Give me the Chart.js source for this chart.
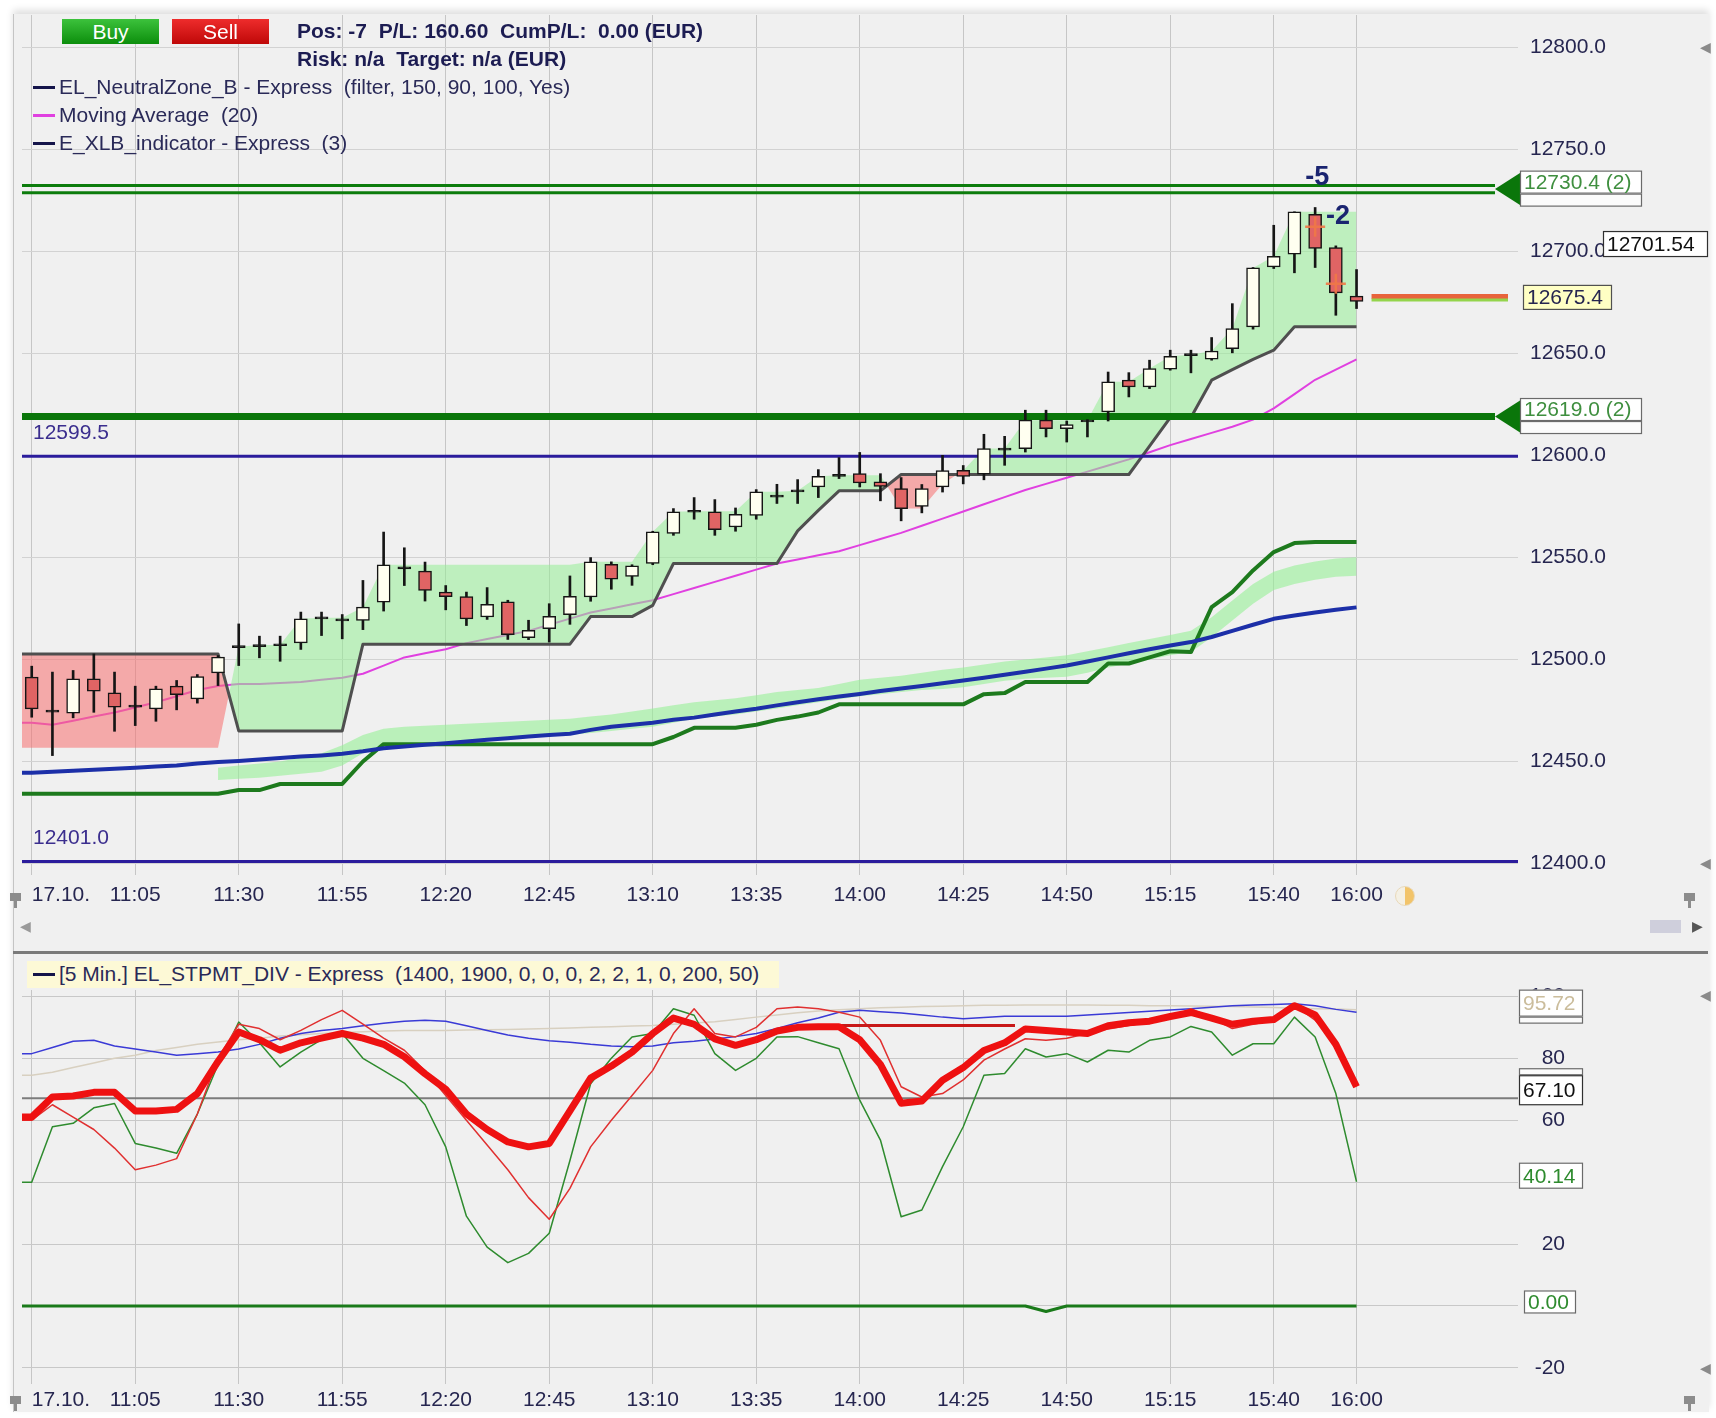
<!DOCTYPE html>
<html>
<head>
<meta charset="utf-8">
<script src="https://cdn.jsdelivr.net/npm/chart.js@4.4.1/dist/chart.umd.min.js"></script>
<style>
  body { margin: 0; background: #fff; }
  #wrap { position: relative; width: 1716px; height: 1418px; overflow: hidden; background: #fff;
          font-family: "Liberation Sans", Arial, sans-serif; }
  #panel { position: absolute; left: 13px; top: 14px; width: 1695px; height: 1398px; background: #f0f0f0;
           border-left: 1px solid #c4c4c4; box-shadow: 0 -4px 7px rgba(0,0,0,0.13); }
  canvas { position: absolute; left: 0; }
  #cTop { top: 0; }
  #cBot { top: 955px; }
  .t { position: absolute; white-space: pre; font-size: 21px; line-height: 26px; color: #2a2a58; }
  .b { font-weight: bold; color: #1c1c52; }
  .btn { position: absolute; top: 19px; width: 97px; height: 25px; color: #fff; font-size: 21px;
         line-height: 25px; text-align: center; }
  .dash { position: absolute; width: 22px; height: 3px; }
  #sep { position: absolute; left: 13px; top: 951px; width: 1695px; height: 3px; background: #7a7a7a; }
  .ico { position: absolute; color: #8a8a8a; font-size: 14px; line-height: 14px; }
  .pin { position: absolute; width: 11px; height: 8px; background: #8c8c8c; }
  .pin::after { content: ""; position: absolute; left: 4px; top: 8px; width: 3px; height: 7px; background: #8c8c8c; }
</style>
</head>
<body>
<div id="wrap">
  <div id="panel"></div>
  <canvas id="cTop" width="1716" height="950"></canvas>
  <canvas id="cBot" width="1716" height="463"></canvas>
  <div id="sep"></div>

  <div class="btn" style="left:62px;background:linear-gradient(#3cc23c,#0c8e0c)">Buy</div>
  <div class="btn" style="left:172px;background:linear-gradient(#ee2c2c,#bf0808)">Sell</div>
  <div class="t b" style="left:297px;top:18px">Pos: -7  P/L: 160.60  CumP/L:  0.00 (EUR)</div>
  <div class="t b" style="left:297px;top:46px">Risk: n/a  Target: n/a (EUR)</div>

  <div class="dash" style="left:33px;top:86px;background:#14144a"></div>
  <div class="t" style="left:59px;top:74px">EL_NeutralZone_B - Express  (filter, 150, 90, 100, Yes)</div>
  <div class="dash" style="left:33px;top:114px;background:#e040e0"></div>
  <div class="t" style="left:59px;top:102px">Moving Average  (20)</div>
  <div class="dash" style="left:33px;top:142px;background:#14144a"></div>
  <div class="t" style="left:59px;top:130px">E_XLB_indicator - Express  (3)</div>

  <div style="position:absolute;left:27px;top:961px;width:752px;height:27px;background:#fdf9d6"></div>
  <div class="dash" style="left:33px;top:973px;background:#14144a"></div>
  <div class="t" style="left:59px;top:961px">[5 Min.] EL_STPMT_DIV - Express  (1400, 1900, 0, 0, 0, 2, 2, 1, 0, 200, 50)</div>

  <div class="ico" style="left:1700px;top:40px">&#9664;</div>
  <div class="ico" style="left:1700px;top:856px">&#9664;</div>
  <div class="ico" style="left:1700px;top:988px">&#9664;</div>
  <div class="ico" style="left:1700px;top:1361px">&#9664;</div>
  <div class="ico" style="left:20px;top:919px;color:#9a9a9a">&#9664;</div>
  <div style="position:absolute;left:1650px;top:920px;width:31px;height:13px;background:#cfcfdc"></div>
  <div class="ico" style="left:1692px;top:919px;color:#555">&#9654;</div>
  <div style="position:absolute;left:1395px;top:886px;width:18px;height:18px;border-radius:50%;
              background:linear-gradient(90deg,#f4f0e4 50%,#f2c46a 50%);border:1px solid #e8d8b8"></div>
  <div class="pin" style="left:10px;top:893px"></div>
  <div class="pin" style="left:1684px;top:893px"></div>
  <div class="pin" style="left:10px;top:1396px"></div>
  <div class="pin" style="left:1684px;top:1396px"></div>
</div>

<script>
// ---- time axis ----
const timeLabels = ['17.10.', '11:05', '11:30', '11:55', '12:20', '12:45', '13:10',
                    '13:35', '14:00', '14:25', '14:50', '15:15', '15:40', '16:00'];
const tickIdx = [0, 5, 10, 15, 20, 25, 30, 35, 40, 45, 50, 55, 60, 64];

// ---- 5 min candles (10:40 .. 16:00) ----
const open = [12491.3,12474.9,12473.7,12490.5,12483.6,12477.1,12475.8,12486.9,12480.7,12493.4,
  12506.3,12507.1,12507.2,12508.1,12520.4,12519.4,12519.1,12528.1,12544.9,12543.3,
  12533.0,12530.8,12520.8,12528.2,12510.7,12515.1,12521.9,12530.6,12546.6,12540.7,
  12547.0,12561.7,12572.6,12572.3,12564.9,12570.6,12580.0,12582.6,12584.5,12590.2,
  12591.0,12587.0,12583.7,12575.0,12584.5,12592.6,12590.7,12603.0,12603.3,12617.2,
  12613.1,12616.8,12621.2,12636.8,12633.5,12642.2,12649.3,12647.1,12652.3,12662.9,
  12692.3,12698.5,12718.1,12701.8,12678.0];
const high = [12496.7,12493.8,12494.6,12502.7,12493.8,12486.9,12486.9,12489.7,12492.6,12501.9,
  12517.4,12511.4,12511.4,12523.2,12523.2,12522.0,12538.7,12562.4,12554.7,12547.7,
  12536.2,12533.0,12535.2,12529.0,12519.2,12527.3,12540.9,12549.9,12547.8,12546.4,
  12562.8,12573.9,12579.3,12578.3,12574.2,12583.2,12585.8,12588.1,12593.0,12598.9,
  12601.4,12591.0,12589.1,12585.7,12600.0,12595.0,12610.3,12609.3,12622.1,12622.1,
  12616.8,12617.5,12640.8,12640.5,12646.6,12651.5,12651.5,12657.7,12674.3,12692.0,
  12712.7,12719.3,12721.4,12702.6,12691.0];
const low = [12471.7,12452.9,12471.4,12474.1,12464.8,12467.6,12469.7,12475.3,12478.6,12487.2,
  12497.0,12500.8,12499.1,12504.9,12511.7,12510.1,12514.6,12523.7,12536.2,12528.6,
  12524.3,12516.6,12519.6,12509.8,12509.7,12508.5,12517.2,12528.5,12534.4,12536.3,
  12546.4,12560.8,12568.7,12560.8,12562.8,12568.7,12576.4,12576.4,12579.3,12588.6,
  12584.5,12577.7,12567.9,12571.8,12582.0,12586.0,12588.0,12595.1,12601.6,12609.0,
  12606.5,12609.0,12616.8,12628.6,12632.7,12641.7,12640.4,12646.6,12650.2,12661.8,
  12691.5,12689.4,12692.0,12668.6,12671.9];
const close = [12475.8,12474.5,12490.5,12484.4,12476.6,12477.1,12485.6,12482.8,12491.6,12501.1,
  12506.3,12506.5,12507.2,12519.9,12520.4,12519.4,12525.6,12546.4,12544.9,12533.8,
  12530.8,12519.9,12527.0,12512.1,12514.3,12521.1,12530.9,12547.8,12539.3,12545.8,
  12562.5,12572.3,12572.6,12563.6,12571.1,12582.1,12580.0,12582.6,12589.7,12590.2,
  12586.5,12584.8,12573.9,12583.7,12592.5,12589.7,12603.3,12603.0,12617.2,12613.1,
  12615.0,12616.8,12636.0,12633.5,12642.5,12648.5,12649.3,12651.1,12662.1,12691.8,
  12697.5,12719.3,12701.3,12679.6,12675.4];

// Moving Average (20)
const ma20 = [12469,12468,12470,12472,12474,12476.5,12479,12482,12485,12487,
  12488,12488,12488.5,12489,12490,12491,12493,12497,12501,12503,
  12505,12508,12510,12512,12514,12517,12520,12523,12525,12527,
  12529,12532,12535,12538,12541,12544,12547,12549,12551,12553,
  12556,12559,12562,12565.5,12569,12572.5,12576,12579.5,12583,12586,
  12589,12592,12595,12598,12601.5,12605,12608,12611,12614,12617.5,
  12623,12630,12637,12642,12647];

// EL_NeutralZone_B : stop line and opposite zone edge
const stopLine = [12502.7,12502.7,12502.7,12502.7,12502.7,12502.7,12502.7,12502.7,12502.7,12502.7,
  12465,12465,12465,12465,12465,12465,12507.5,12507.5,12507.5,12507.5,
  12507.5,12507.5,12507.5,12507.5,12507.5,12507.5,12507.5,12521,12521,12521,
  12526.5,12547,12547,12547,12547,12547,12547,12563,12573,12582.6,
  12582.6,12582.6,12590.6,12590.6,12590.6,12590.6,12590.6,12590.6,12590.6,12590.6,
  12590.6,12590.6,12590.6,12590.6,12604.5,12618.5,12618.5,12636.8,12642,12647,
  12651.5,12663,12663,12663,12663];
const zoneEdge = [12456.7,12456.7,12456.7,12456.7,12456.7,12456.7,12456.7,12456.7,12456.7,12456.7,
  12506.3,12507,12507.2,12519.9,12520.4,12520.4,12525.6,12546.4,12546.4,12546.4,
  12546.4,12546.4,12546.4,12546.4,12546.4,12546.4,12546.4,12547.8,12547.8,12547.8,
  12562.5,12572.3,12572.6,12572.6,12572.6,12582.1,12582.1,12582.6,12589.7,12590.2,
  12590.2,12590.2,12574,12574,12586,12592.6,12603.3,12603.3,12617.2,12617.2,
  12617.2,12617.2,12636,12636,12642.5,12648.5,12649.3,12651.1,12662.1,12691.8,
  12697.5,12719.3,12719.3,12719.3,12719.3];

// E_XLB_indicator
const xlbBlue = [12444.5,12445,12445.5,12446,12446.5,12447,12447.5,12448,12449,12449.7,
  12450.3,12451,12451.7,12452.4,12453,12453.8,12455,12456.5,12457.4,12458.2,
  12459,12459.8,12460.6,12461.4,12462.2,12463,12463.6,12465.5,12467,12468,
  12469,12470.5,12471.5,12473,12474.5,12475.8,12477.5,12479,12480.5,12481.8,
  12483.1,12484.5,12485.8,12487,12488.3,12489.7,12491,12492.5,12494,12495.5,
  12497,12499,12501,12503,12505,12506.8,12508.5,12511,12514,12517,
  12519.9,12521.5,12523,12524.3,12525.5];
const xlbStep = [12434.2,12434.2,12434.2,12434.2,12434.2,12434.2,12434.2,12434.2,12434.2,12434.2,
  12436,12436,12439,12439,12439,12439,12450,12458.5,12458.5,12458.5,
  12458.5,12458.5,12458.5,12458.5,12458.5,12458.5,12458.5,12458.5,12458.5,12458.5,
  12458.5,12462,12466.5,12466.5,12466.5,12468,12470.4,12472,12474,12478,
  12478,12478,12478,12478,12478,12478,12483,12483.5,12489,12489,
  12489,12489,12498,12498,12501,12504,12503.6,12525.6,12533,12543.6,
  12552.6,12557,12557.5,12557.5,12557.5];
const bandTop = [null,null,null,null,null,null,null,null,null,12447,
  12448,12449,12450,12452,12454,12458,12463,12466,12467,12467.5,
  12468,12468.5,12469,12469.5,12470,12470.5,12471,12472,12473,12474.5,
  12476,12477.5,12479,12480,12481,12482.5,12484,12485,12486,12488,
  12490,12491,12492,12493.5,12495,12496,12497.5,12499,12500,12501,
  12502,12504,12506,12508,12510,12512,12514,12520.7,12528.9,12537,
  12543,12546,12548,12549.5,12550];
const bandBottom = [null,null,null,null,null,null,null,null,null,12441,
  12441.5,12442,12443,12444,12445,12448,12454,12457,12458,12458.5,
  12459,12459.5,12460,12461,12462,12462.5,12463,12464,12465,12466,
  12467,12469,12471,12472,12473,12474.5,12476,12477.5,12479,12480.5,
  12482,12483,12484,12485,12485.5,12486.4,12488,12489.5,12490.5,12491,
  12491.5,12493.5,12496,12498,12500,12502,12503.6,12510.9,12519.1,12527.3,
  12534,12537,12539,12540.5,12541];

// price levels / tags
const priceTicks = [12400, 12450, 12500, 12550, 12600, 12650, 12700, 12750, 12800];
const blueLevels = [12599.5, 12401.0];
const orderLevels = [12730.4, 12619.0];
const orderTags = ['12730.4 (2)', '12619.0 (2)'];
const lastPrice = 12675.4;
const cursorPrice = 12701.54;
const tradeIdx = [62, 63];
const tradePrice = [12712, 12684];
const tradeText = ['-5', '-2'];
const tradeTextIdx = [62.1, 63.1];
const tradeTextPrice = [12736, 12717];

// ---- EL_STPMT_DIV oscillator ----
const stpmt = [61,67.5,67.8,69,69,63,63,63.5,68.6,79,
  88.5,86,82.6,85,86.5,88,86.5,84.5,80.5,75,
  70,62,57,53,51.4,52.5,63,73.6,77.5,82,
  88,93,91,86.3,84.2,86,88.8,90,90.2,90.2,
  86,78,65.5,66.2,72.9,77,82.5,85,89.5,89,
  88.5,88,90.5,91.5,92,93.5,94.8,93,91,92,
  92.5,97,94,84.5,70.8];
const stochRed = [60,65,61,57,51,44,45.5,47.6,62,80,
  91,89.6,86,89,92.5,95.5,91,86.5,82.6,76,
  68,60,52,44,35,28,38,51.4,60,68,
  76.1,88,96,88,86.9,90,96,96.6,96,94.9,
  93.3,85.8,70.8,67.5,68.6,73,79.4,83,86.3,85.8,
  86.5,88,89.5,90.6,91.7,93,96,93,89.6,91,
  92.3,97.1,92.3,85,71];
const stochGreen = [40,57.9,59,64,65.4,52.5,51,49.3,62,78,
  91.7,85,77.2,82,86,88,80,76,72,65,
  51.4,29,19,14,17,23.5,47,71.8,80,86.9,
  88,96,93.9,81.5,76.1,80,86.9,87,85,83.1,
  66.5,53.6,28.8,31,45,57.9,74.5,75.1,83.1,80.4,
  81.5,78.8,82.6,82,85.8,86.9,90.3,88.5,81,84.7,
  84.7,93.3,86.9,68.6,40.14];
const stochBlue = [81.5,83.5,85.5,85.8,84,83,82,81,81.5,82,
  83,84.5,86.5,88,89,89.6,90.5,91.3,92,92.3,
  92,90.5,89,87.5,86.5,85.7,85.2,84.5,84,83.7,
  84,85,85.5,86.2,87,88,89.6,91.5,93,94.9,
  95.5,95,94.6,94,93.3,92.8,93.2,93.6,93.6,93.6,
  93.6,94,94.4,94.8,95.2,95.6,96,96.5,97,97.2,
  97.4,97.6,97,95.8,94.9];
const stochBeige = [74.5,75.5,77,78.5,80,81,82.5,83.5,84.5,85.3,
  86,86.5,87.2,87.6,88,88.3,88.6,88.8,89,89,
  89,89.1,89.2,89.3,89.5,89.6,89.8,90,90.2,90.4,
  90.6,91,91.4,91.8,92.5,93.3,94,94.7,95.3,95.7,
  96,96.3,96.5,96.7,96.8,97,97.1,97.1,97.2,97.2,
  97.2,97.2,97.1,97.1,97,97,96.9,96.8,96.7,96.6,
  96.4,96.2,96,95.9,95.72];
const zeroLine = [0,0,0,0,0,0,0,0,0,0, 0,0,0,0,0,0,0,0,0,0, 0,0,0,0,0,0,0,0,0,0,
  0,0,0,0,0,0,0,0,0,0, 0,0,0,0,0,0,0,0,0,-1.8, 0,0,0,0,0,0,0,0,0,0, 0,0,0,0,0];
const divX = [39, 47.5];
const divY = [90.6, 90.6];
const oscTicks = [-20, 0, 20, 40, 60, 80, 100];
const oscLevel = 67.1;
const oscTags = [95.72, 67.10, 40.14, 0.00];

// ---- helpers ----
const X_MIN = -0.47, X_MAX = 71.8;
const FONT = '21px "Liberation Sans", Arial, sans-serif';
Chart.defaults.font.family = '"Liberation Sans", Arial, sans-serif';
Chart.defaults.font.size = 21;
Chart.defaults.color = '#262650';
Chart.defaults.animation = false;

function pts(arr, extend) {
  const out = [];
  arr.forEach((v, i) => { if (v !== null) out.push({x: i, y: v}); });
  if (extend) out.unshift({x: X_MIN, y: arr[0]});
  return out;
}
function lineDs(data, color, width, order, extra) {
  return Object.assign({type: 'line', data: data, borderColor: color, borderWidth: width,
    pointRadius: 0, tension: 0, fill: false, order: order, borderJoinStyle: 'round'}, extra || {});
}
function hline(ctx, x0, x1, y, w, color) {
  ctx.beginPath(); ctx.moveTo(x0, y); ctx.lineTo(x1, y);
  ctx.lineWidth = w; ctx.strokeStyle = color; ctx.stroke();
}
function tag(ctx, x, top, w, h, text, color, bg, border) {
  ctx.fillStyle = bg; ctx.fillRect(x, top, w, h);
  ctx.lineWidth = 1.2; ctx.strokeStyle = border;
  ctx.strokeRect(x + 0.5, top + 0.5, w - 1, h - 1);
  if (text) {
    ctx.fillStyle = color; ctx.font = FONT; ctx.textAlign = 'left'; ctx.textBaseline = 'middle';
    ctx.fillText(text, x + 4, top + h / 2 + 1);
  }
}
function xAxis(height, pad) {
  return {
    type: 'linear', min: X_MIN, max: X_MAX, offset: false,
    afterBuildTicks: s => { s.ticks = tickIdx.map(v => ({value: v})); },
    afterFit: s => { s.height = height; s.paddingLeft = 0; s.paddingRight = 0; },
    ticks: { autoSkip: false, maxRotation: 0, padding: pad,
      callback: v => { const k = tickIdx.indexOf(v); return k === 0 ? ' '.repeat(10) + timeLabels[0] : timeLabels[k]; } },
    grid: { color: '#c6c6c6', drawTicks: false, offset: false },
    border: { display: false }
  };
}

// ---- top chart ----
const wickData = open.map((o, i) => ({x: i, y: [low[i], high[i]]}));
const bodyData = open.map((o, i) => {
  let a = Math.min(o, close[i]), b = Math.max(o, close[i]);
  if (b - a < 0.8) { const m = (a + b) / 2; a = m - 0.5; b = m + 0.5; }
  return {x: i, y: [a, b]};
});
const bodyColor = open.map((o, i) => Math.abs(close[i] - o) < 0.8 ? '#151515' : (close[i] > o ? '#fffff0' : '#e06464'));

const topOverlay = {
  id: 'topOverlay',
  afterDatasetDraw(chart, args) {
    if (args.index !== 5) return;
    const {ctx, chartArea: a, scales: {x, y}} = chart;
    ctx.save();
    blueLevels.forEach(v => {
      const py = y.getPixelForValue(v);
      hline(ctx, a.left, a.right, py, 3, '#2b1c9c');
      ctx.fillStyle = '#3b2e8e'; ctx.font = FONT; ctx.textAlign = 'left'; ctx.textBaseline = 'middle';
      ctx.fillText(v.toFixed(1), a.left + 11, py - 23);
    });
    const end = a.right - 23;
    let py = y.getPixelForValue(orderLevels[0]);
    hline(ctx, a.left, end, py - 3.7, 3, '#0c7c0c');
    hline(ctx, a.left, end, py + 3.7, 3, '#0c7c0c');
    py = y.getPixelForValue(orderLevels[1]);
    hline(ctx, a.left, end, py, 7, '#0a760a');
    const x0 = x.getPixelForValue(open.length - 1) + 15;
    const lp = y.getPixelForValue(lastPrice);
    hline(ctx, x0, a.right - 10, lp - 5, 5, '#e8643c');
    hline(ctx, x0, a.right - 10, lp - 1.5, 3, '#94d44c');
    ctx.restore();
  },
  afterDraw(chart) {
    const {ctx, chartArea: a, scales: {x, y}} = chart;
    ctx.save();
    orderLevels.forEach((v, k) => {
      const py = y.getPixelForValue(v);
      ctx.beginPath();
      ctx.moveTo(a.right - 23, py); ctx.lineTo(a.right + 2, py - 16); ctx.lineTo(a.right + 2, py + 16);
      ctx.closePath(); ctx.fillStyle = '#0a760a'; ctx.fill();
      tag(ctx, a.right + 2, py + 4.5, 122, 13, '', '', '#fbfbfb', '#6a6a6a');
      tag(ctx, a.right + 2, py - 18.5, 122, 23, orderTags[k], '#3f8f3f', '#ffffff', '#6a6a6a');
    });
    let py = y.getPixelForValue(cursorPrice);
    tag(ctx, a.right + 85, py - 17, 105, 26, cursorPrice.toFixed(2), '#101010', '#ffffff', '#303030');
    py = y.getPixelForValue(lastPrice);
    tag(ctx, a.right + 5, py - 16.5, 89, 25, lastPrice.toFixed(1), '#262650', '#ffffc4', '#505050');
    ctx.fillStyle = '#1a2470'; ctx.font = 'bold 27px "Liberation Sans", Arial, sans-serif';
    ctx.textAlign = 'center'; ctx.textBaseline = 'middle';
    tradeText.forEach((t, k) => ctx.fillText(t, x.getPixelForValue(tradeTextIdx[k]), y.getPixelForValue(tradeTextPrice[k])));
    ctx.restore();
  }
};

new Chart(document.getElementById('cTop'), {
  type: 'line',
  data: { datasets: [
    lineDs(pts(bandBottom), 'rgba(0,0,0,0)', 0, 100),
    lineDs(pts(bandTop), 'rgba(0,0,0,0)', 0, 99, {fill: {target: 0, above: 'rgba(150,240,150,0.6)', below: 'rgba(150,240,150,0.6)'}}),
    lineDs(pts(xlbStep, true), '#1d7a1d', 4, 90),
    lineDs(pts(xlbBlue, true), '#1c2fa8', 4, 89),
    lineDs(pts(ma20, true), '#e040e0', 2, 80),
    lineDs(pts(stopLine, true), '#4f4f4f', 3, 69),
    lineDs(pts(zoneEdge, true), 'rgba(0,0,0,0)', 0, 70, {fill: {target: 5, above: 'rgba(150,238,150,0.55)', below: 'rgba(248,112,112,0.55)'}}),
    { type: 'bar', data: wickData, backgroundColor: '#151515', barThickness: 2, grouped: false, order: 50 },
    { type: 'bar', data: bodyData, backgroundColor: bodyColor, borderColor: '#151515', borderWidth: 1.5,
      borderSkipped: false, barThickness: 13, grouped: false, order: 49 },
    lineDs(tradeIdx.map((v, k) => ({x: v, y: tradePrice[k]})), 'rgba(0,0,0,0)', 0, 40,
      {showLine: false, pointRadius: 10, pointStyle: 'cross', pointBorderColor: 'rgba(240,120,70,0.9)', pointBorderWidth: 2.5})
  ]},
  options: {
    responsive: false,
    layout: { padding: { left: 22, top: 15, right: 0, bottom: 0 } },
    plugins: { legend: { display: false }, tooltip: { enabled: false } },
    scales: {
      x: xAxis(75, 8),
      y: {
        type: 'linear', position: 'right', min: 12394.4, max: 12815.7,
        afterBuildTicks: s => { s.ticks = priceTicks.map(v => ({value: v})); },
        afterFit: s => { s.width = 198; s.paddingTop = 0; s.paddingBottom = 0; },
        ticks: { padding: 12, crossAlign: 'near', callback: v => v.toFixed(1) },
        grid: { color: '#d2d2d2', drawTicks: false },
        border: { display: false }
      }
    }
  },
  plugins: [topOverlay]
});

// ---- bottom chart ----
const botOverlay = {
  id: 'botOverlay',
  beforeDatasetsDraw(chart) {
    const {ctx, chartArea: a, scales: {y}} = chart;
    ctx.save();
    hline(ctx, a.left, a.right, y.getPixelForValue(oscLevel), 2, '#7c7c7c');
    ctx.restore();
  },
  afterDraw(chart) {
    const {ctx, chartArea: a, scales: {y}} = chart;
    ctx.save();
    let py = y.getPixelForValue(oscTags[0]);
    tag(ctx, a.right + 1, py + 7, 64, 7, '', '', '#fbfbfb', '#6a6a6a');
    tag(ctx, a.right + 1, py - 20, 64, 27, oscTags[0].toFixed(2), '#cbbd9c', '#ffffff', '#6a6a6a');
    py = y.getPixelForValue(oscTags[1]);
    tag(ctx, a.right + 1, py - 30, 64, 7, '', '', '#fbfbfb', '#6a6a6a');
    tag(ctx, a.right + 1, py - 23, 64, 30, oscTags[1].toFixed(2), '#101010', '#ffffff', '#303030');
    py = y.getPixelForValue(oscTags[2]);
    tag(ctx, a.right + 1, py - 19, 64, 26, oscTags[2].toFixed(2), '#2e8b2e', '#ffffff', '#6a6a6a');
    py = y.getPixelForValue(oscTags[3]);
    tag(ctx, a.right + 6, py - 15.5, 52, 23, oscTags[3].toFixed(2), '#2e8b2e', '#ffffff', '#6a6a6a');
    ctx.restore();
  }
};

new Chart(document.getElementById('cBot'), {
  type: 'line',
  data: { datasets: [
    lineDs(pts(stochBeige, true), '#d8d0c0', 1.5, 10),
    lineDs(pts(stochBlue, true), '#3a3ad6', 1.5, 9),
    lineDs(pts(zeroLine, true), '#1a7a1a', 3, 8),
    lineDs(pts(stochGreen, true), '#2e8b2e', 1.5, 7),
    lineDs(pts(stochRed, true), '#e03030', 1.5, 6),
    lineDs(divX.map((v, k) => ({x: v, y: divY[k]})), '#c81818', 3, 5),
    lineDs(pts(stpmt, true), '#ee1111', 7, 4)
  ]},
  options: {
    responsive: false,
    layout: { padding: { left: 22, top: 35, right: 151, bottom: 0 } },
    plugins: { legend: { display: false }, tooltip: { enabled: false } },
    scales: {
      x: xAxis(34, 4),
      y: {
        type: 'linear', position: 'right', min: -25.2, max: 102.06,
        afterBuildTicks: s => { s.ticks = oscTicks.map(v => ({value: v})); },
        afterFit: s => { s.width = 47; s.paddingTop = 0; s.paddingBottom = 0; },
        ticks: { padding: 12, crossAlign: 'far' },
        grid: { color: '#c8c8c8', drawTicks: false },
        border: { display: false }
      }
    }
  },
  plugins: [botOverlay]
});
</script>
</body>
</html>
